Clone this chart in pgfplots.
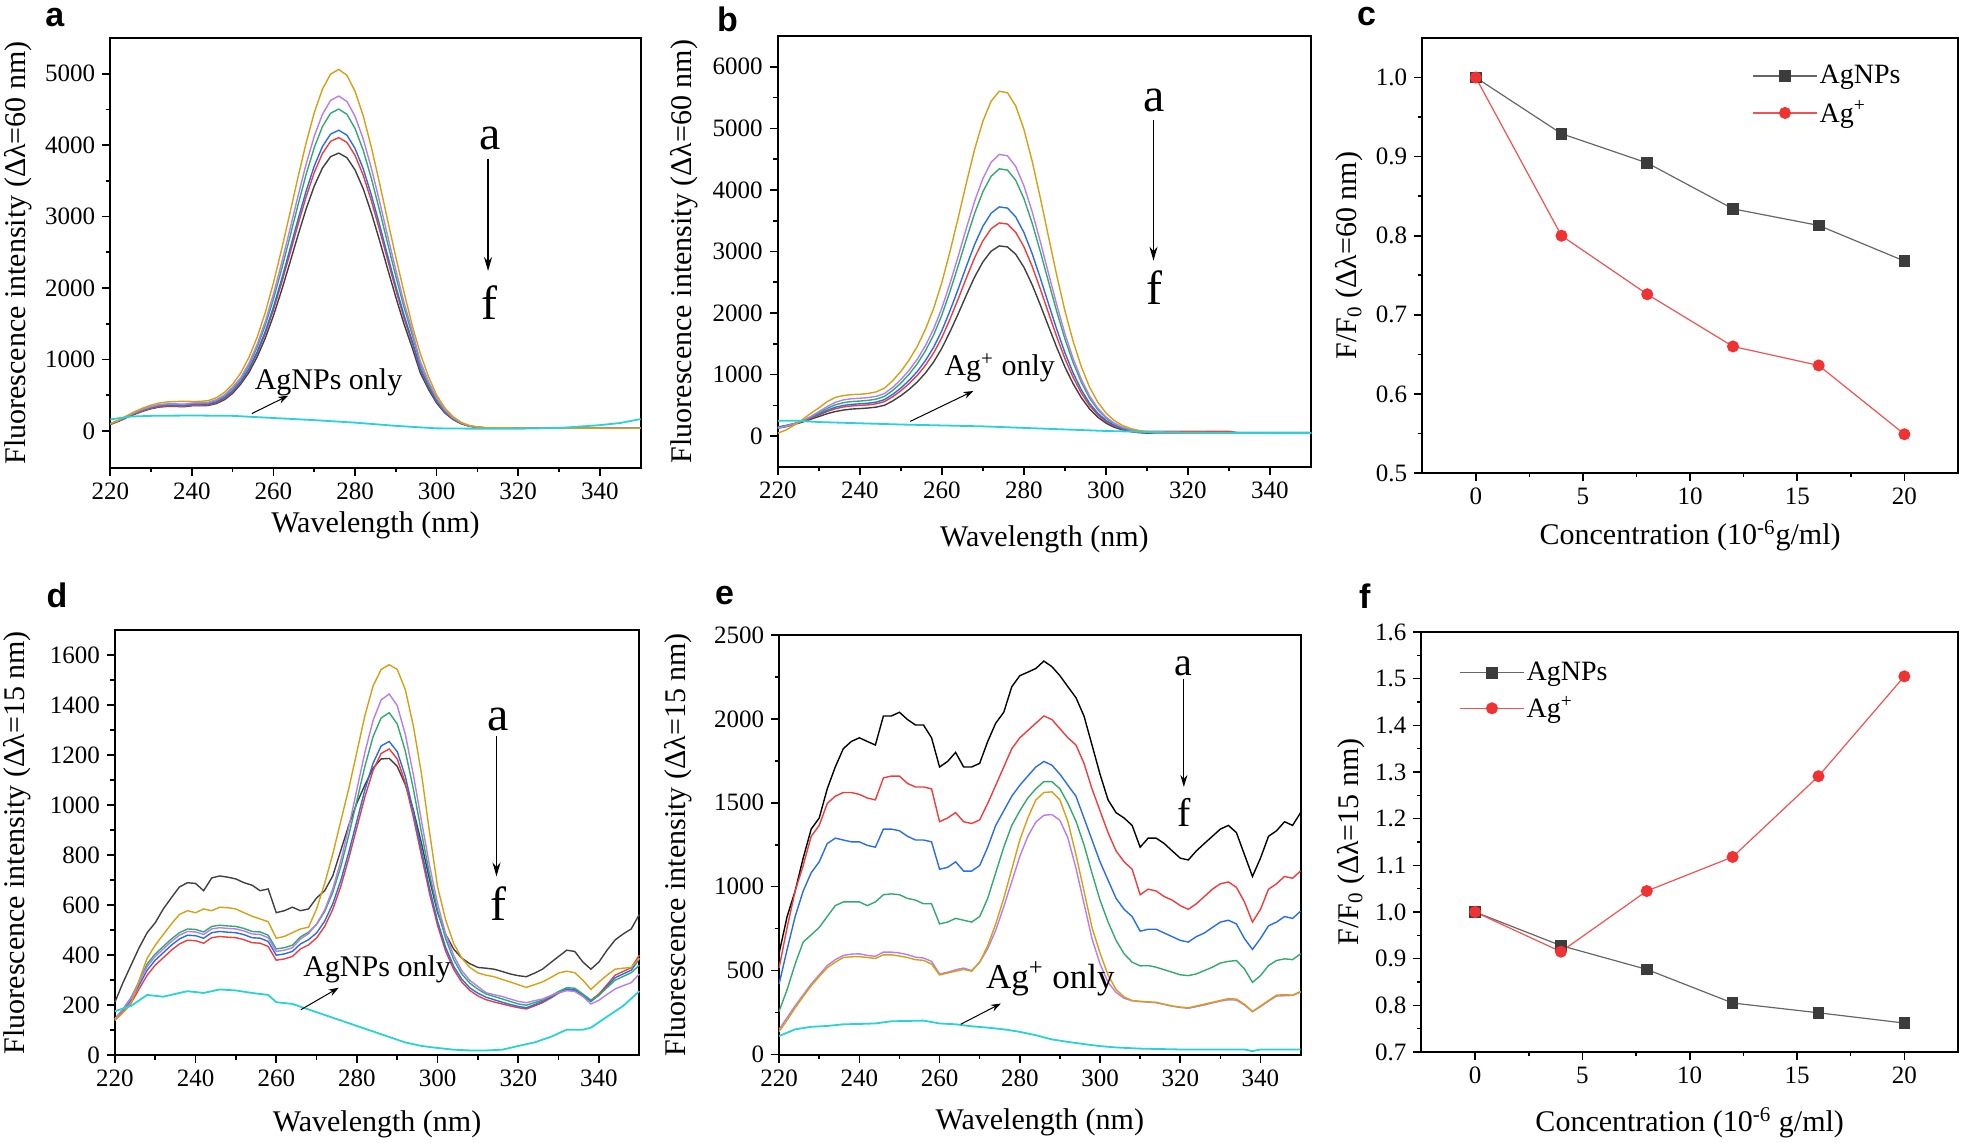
\documentclass[border=0pt]{standalone}
\usepackage{fontspec}
\setmainfont{Liberation Serif}
\newfontfamily\panelfont{Liberation Sans}
\usepackage{pgfplots}
\usepackage{pgfplotstable}
\pgfplotsset{compat=1.18}
\usetikzlibrary{arrows.meta}

\definecolor{cK}{RGB}{64,64,64}
\definecolor{cR}{RGB}{240,60,60}
\definecolor{cB}{RGB}{40,110,230}
\definecolor{cG}{RGB}{50,170,110}
\definecolor{cP}{RGB}{185,125,235}
\definecolor{cO}{RGB}{215,160,20}
\definecolor{cC}{RGB}{40,210,215}
\definecolor{mK}{RGB}{60,60,60}
\definecolor{mR}{RGB}{240,50,50}

\pgfplotsset{
 myaxis/.style={
  scale only axis, anchor=south west,
  axis line style={line width=1pt},
  tick style={line width=0.8pt, black},
  major tick length=4pt, minor tick length=2.2pt,
  tick align=outside, xtick pos=bottom, ytick pos=left,
  tick label style={font=\fontsize{12.5}{14}\selectfont},
  label style={font=\fontsize{15}{18}\selectfont},
  /pgf/number format/assume math mode=true,
  /pgf/number format/set thousands separator={},
  scaled ticks=false,
  every axis plot/.append style={line width=0.7pt},
  clip=false,
 },
 myleg/.style={
  legend cell align=left,
  legend image code/.code={\draw[mark repeat=2,mark phase=2,##1] plot coordinates {(0pt,0pt) (16pt,0pt) (32pt,0pt)};},
 }
}

\pgfplotstableread{
x k r bl g p o
220 90 92 95 98 100 100
222 133 136 140 144 147 150
224 185 189 195 201 205 210
226 233 238 245 252 257 270
228 276 281 290 299 305 320
230 309 315 325 335 341 360
232 333 340 350 361 368 390
234 342 349 360 371 378 405
236 342 349 360 371 378 410
238 337 344 355 366 373 415
240 351 359 370 382 390 411
242 351 360 371 385 393 412
244 355 364 375 391 400 423
246 382 395 406 424 436 464
248 436 452 466 489 503 539
250 526 548 563 593 612 653
252 656 681 692 726 746 812
254 819 853 870 917 946 1029
256 1035 1083 1106 1171 1211 1310
258 1298 1362 1393 1480 1533 1659
260 1613 1695 1735 1847 1916 2073
262 1969 2073 2122 2263 2350 2542
264 2349 2475 2535 2707 2812 3039
266 2736 2885 2956 3159 3283 3547
268 3106 3276 3357 3589 3732 4030
270 3428 3617 3707 3966 4125 4454
272 3679 3883 3980 4259 4430 4784
274 3839 4053 4154 4446 4626 4994
276 3888 4105 4209 4505 4687 5060
278 3825 4039 4140 4432 4612 4978
280 3653 3857 3954 4233 4404 4754
282 3390 3579 3669 3928 4087 4412
284 3051 3221 3302 3534 3677 3970
286 2666 2815 2886 3089 3213 3469
288 2264 2390 2450 2622 2727 2944
290 1869 1973 2022 2163 2250 2430
292 1496 1578 1618 1730 1799 1943
294 1165 1229 1260 1347 1400 1480
296 811 854 875 935 972 1080
298 581 612 626 668 694 760
300 389 409 418 445 462 500
302 250 262 268 285 295 320
304 159 166 169 179 184 200
306 99 103 104 109 112 120
308 65 66 67 69 70 75
310 50 50 50 51 52 55
312 42 42 42 42 43 45
320 38 38 38 38 38 40
335 38 38 38 38 38 38
350 38 38 38 38 38 36
}\tabA

\pgfplotstableread{
x y
220 160
225 200
230 210
240 215
250 210
260 180
270 150
280 115
290 70
300 35
310 30
320 30
330 40
340 80
345 110
350 165
}\cyA

\pgfplotstableread{
x k r bl g p o
220 130 140 150 140 130 50
222 155 165 175 170 160 100
224 190 200 205 205 200 180
226 230 240 245 250 250 270
228 275 290 300 310 320 370
230 320 345 360 380 400 460
232 365 400 420 450 480 560
234 400 445 470 510 550 630
236 425 475 500 545 590 660
238 441 492 517 563 609 676
240 449 500 526 571 617 681
242 458 509 536 582 627 694
244 473 526 554 602 647 720
246 502 562 595 647 692 781
248 572 641 679 743 793 901
250 658 738 782 862 919 1052
252 760 853 906 1006 1071 1237
254 880 987 1050 1176 1249 1458
256 1027 1152 1229 1388 1472 1737
258 1206 1352 1445 1646 1743 2077
260 1430 1603 1715 1968 2081 2499
262 1699 1904 2041 2353 2486 3004
264 1991 2233 2395 2773 2926 3552
266 2297 2575 2764 3208 3384 4121
268 2588 2901 3116 3623 3820 4661
270 2831 3173 3410 3970 4185 5115
272 3005 3369 3621 4221 4448 5441
274 3091 3464 3725 4343 4577 5603
276 3074 3446 3705 4322 4555 5578
278 2956 3313 3563 4158 4381 5366
280 2745 3077 3309 3861 4068 4985
282 2462 2761 2968 3464 3649 4471
284 2133 2392 2571 3000 3161 3873
286 1785 2001 2151 2510 2644 3239
288 1443 1617 1738 2027 2137 2616
290 1125 1261 1355 1580 1665 2037
292 853 956 1028 1197 1262 1542
294 626 702 754 877 925 1129
296 445 498 535 621 655 798
298 310 348 374 433 457 555
300 213 239 257 296 312 378
302 146 164 176 201 213 256
304 102 115 123 139 148 176
306 74 84 89 100 107 125
308 58 65 69 76 82 94
310 50 80 57 62 67 76
312 50 80 60 50 55 62
320 50 80 60 50 55 55
330 50 80 60 50 55 55
332 50 60 60 50 55 55
350 50 60 60 50 55 55
}\tabB

\pgfplotstableread{
x y
220 250
225 250
230 230
240 210
250 190
260 175
270 160
280 135
290 110
300 85
310 70
320 60
330 55
340 50
350 50
}\cyB

\pgfplotstableread{
x k r bl g p o
220 212 140 145 145 145 139
222 290 172 180 185 183 170
224 360 208 220 230 228 205
226 430 265 280 295 292 300
228 490 320 340 365 355 388
230 530 360 380 405 395 440
232 585 390 410 435 425 483
234 630 420 440 465 455 525
236 673 445 465 490 480 563
238 690 460 480 505 495 578
240 687 458 478 503 493 570
242 658 448 468 493 483 585
244 709 470 490 515 505 578
246 717 475 495 520 510 592
248 712 472 492 517 507 590
250 705 470 490 515 505 585
252 690 462 482 507 497 570
254 680 450 470 495 485 556
256 658 448 468 493 483 545
258 665 435 455 480 470 534
260 570 380 400 425 415 468
262 578 385 405 430 420 475
264 592 395 415 440 430 490
266 578 425 445 473 465 505
268 585 441 462 492 486 512
270 629 469 489 523 525 585
272 658 515 536 574 581 687
274 717 583 605 651 665 804
276 819 675 699 754 777 936
278 921 789 813 881 913 1068
280 1009 912 938 1019 1064 1214
282 1082 1035 1063 1157 1213 1360
284 1148 1139 1168 1274 1339 1477
286 1185 1207 1237 1349 1421 1543
288 1187 1225 1255 1370 1445 1562
290 1155 1185 1214 1325 1398 1543
292 1082 1088 1115 1216 1283 1462
294 980 951 975 1064 1121 1316
296 848 798 819 891 937 1126
298 702 647 667 724 759 892
300 570 518 535 580 606 673
302 483 416 431 466 484 541
304 424 343 355 382 398 446
306 388 292 304 325 338 388
308 366 259 269 288 299 351
310 351 237 248 264 275 329
312 348 222 232 245 250 320
314 344 213 222 235 242 314
316 335 205 212 225 235 303
318 325 197 203 215 225 293
320 318 190 195 205 215 282
322 314 185 190 200 210 271
324 328 197 202 210 218 282
326 344 210 215 220 225 293
328 370 228 232 237 238 310
330 395 248 250 255 250 329
332 420 262 265 270 258 336
334 415 260 262 268 255 330
336 373 238 240 245 235 300
338 344 220 215 220 205 263
340 373 245 240 240 220 293
342 420 282 275 270 243 320
344 461 320 310 300 265 344
346 485 335 325 315 278 348
348 505 350 340 330 290 351
350 563 400 385 360 325 388
}\tabD

\pgfplotstableread{
x y
220 176
224 197
228 241
232 234
236 249
238 256
242 249
246 263
250 259
254 249
258 241
260 212
264 205
268 183
272 161
276 139
280 117
284 95
288 73
292 51
296 37
300 29
304 22
308 19
312 19
316 22
320 37
324 51
328 73
332 102
336 102
338 110
342 154
346 197
350 256
}\cyD

\pgfplotstableread{
x k r bl g p o
220 604 517 420 257 150 137
222 822 757 626 387 220 205
224 974 974 822 539 290 278
226 1170 1126 974 670 355 345
228 1343 1300 1083 713 420 409
230 1409 1365 1148 757 475 465
232 1583 1496 1257 822 530 517
234 1713 1539 1289 887 565 550
236 1822 1561 1278 909 590 578
238 1865 1561 1267 909 598 582
240 1887 1550 1267 909 600 583
242 1865 1528 1246 887 590 578
244 1844 1517 1235 909 585 572
246 2017 1648 1343 952 610 594
248 2017 1659 1343 957 610 594
250 2039 1659 1333 952 605 587
252 1996 1615 1300 930 595 578
254 1963 1594 1278 920 580 565
256 1963 1594 1278 898 575 561
258 1887 1583 1267 898 555 539
260 1713 1387 1104 778 480 474
262 1746 1409 1115 789 490 485
264 1800 1441 1148 811 505 496
266 1713 1387 1093 800 515 507
268 1713 1376 1093 789 500 496
270 1735 1398 1126 822 550 550
272 1865 1496 1235 930 630 648
274 1974 1604 1365 1083 740 778
276 2039 1713 1452 1235 880 930
278 2191 1822 1539 1365 1030 1104
280 2257 1887 1604 1452 1180 1278
282 2278 1930 1659 1528 1300 1409
284 2300 1974 1713 1583 1385 1517
286 2344 2017 1746 1626 1425 1561
288 2311 1996 1724 1626 1430 1565
290 2257 1941 1670 1583 1395 1517
292 2191 1887 1604 1496 1290 1387
294 2126 1844 1539 1390 1110 1191
296 2017 1735 1409 1250 900 974
298 1844 1583 1278 1080 690 757
300 1670 1452 1148 920 540 604
302 1517 1322 1039 790 430 474
304 1441 1213 930 680 370 387
306 1409 1148 865 600 335 343
308 1365 1104 822 550 320 322
310 1235 952 735 528 315 317
312 1289 985 746 530 312 314
314 1289 974 746 520 308 311
316 1257 941 724 505 298 300
318 1213 920 702 490 288 289
320 1170 887 680 475 280 283
322 1159 865 670 470 275 278
324 1213 898 702 480 285 289
326 1257 941 724 500 295 300
328 1300 985 757 520 307 311
330 1343 1017 789 545 318 322
332 1365 1028 800 555 326 333
334 1322 996 778 560 324 330
336 1191 909 691 510 295 300
338 1061 789 626 430 255 257
340 1170 865 691 470 285 289
342 1300 985 767 530 318 322
344 1333 1017 789 560 348 354
346 1387 1061 822 570 350 356
348 1365 1050 811 565 352 354
350 1441 1094 854 600 372 376
}\tabE

\pgfplotstableread{
x y
220 110
224 150
228 165
232 170
236 180
240 182
244 185
248 198
252 200
256 202
260 185
264 180
268 168
272 160
276 150
280 135
284 115
288 90
292 75
296 62
300 50
304 42
310 35
320 30
330 30
336 30
338 20
340 30
350 30
}\cyE

\pgfplotstableread{
x np ag
0 1.000 1.000
4 0.929 0.800
8 0.892 0.726
12 0.834 0.660
16 0.813 0.636
20 0.768 0.549
}\tabC

\pgfplotstableread{
x np ag
0 1.000 1.000
4 0.928 0.915
8 0.877 1.045
12 0.805 1.118
16 0.784 1.291
20 0.762 1.505
}\tabF

\begin{document}
\begin{tikzpicture}
% ---------- panel a ----------
\begin{axis}[myaxis, at={(55.15pt,337pt)}, width=265.15pt, height=215pt,
  xmin=220, xmax=350, ymin=-520, ymax=5500,
  xtick={220,240,...,340}, ytick={0,1000,...,5000},
  minor x tick num=1, minor y tick num=1,
  xlabel={Wavelength (nm)}, ylabel={Fluorescence intensity (Δλ=60 nm)},
  xlabel style={at={(axis description cs:0.5,-0.1326)}, anchor=center},
  ylabel style={at={(axis description cs:-0.1742,0.5)}, anchor=center}]
\addplot[cK] table[x=x,y=k]{\tabA};
\addplot[cR] table[x=x,y=r]{\tabA};
\addplot[cB] table[x=x,y=bl]{\tabA};
\addplot[cG] table[x=x,y=g]{\tabA};
\addplot[cP] table[x=x,y=p]{\tabA};
\addplot[cO] table[x=x,y=o]{\tabA};
\addplot[cC, line width=0.9pt] table[x=x,y=y]{\cyA};
\node[font=\fontsize{24}{28}\selectfont] at (axis cs:313,4100) {a};
\node[font=\fontsize{24}{28}\selectfont] at (axis cs:313,1790) {f};
\draw[-{Stealth[length=7pt,width=4pt]}, line width=0.6pt] (axis cs:312.6,3806) -- (axis cs:312.6,2238);
\node[font=\fontsize{15}{18}\selectfont] at (axis cs:273.5,684) {AgNPs only};
\draw[-{Stealth[length=5pt,width=3.5pt]}, line width=0.5pt] (axis cs:254.7,242) -- (axis cs:263.6,492);
\end{axis}
% ---------- panel b ----------
\begin{axis}[myaxis, at={(388.9pt,337.5pt)}, width=266.6pt, height=215.5pt,
  xmin=220, xmax=350, ymin=-500, ymax=6500,
  xtick={220,240,...,340}, ytick={0,1000,...,6000},
  minor x tick num=1, minor y tick num=1,
  xlabel={Wavelength (nm)}, ylabel={Fluorescence intensity (Δλ=60 nm)},
  xlabel style={at={(axis description cs:0.5,-0.167)}, anchor=center},
  ylabel style={at={(axis description cs:-0.1755,0.5)}, anchor=center}]
\addplot[cK] table[x=x,y=k]{\tabB};
\addplot[cR] table[x=x,y=r]{\tabB};
\addplot[cB] table[x=x,y=bl]{\tabB};
\addplot[cG] table[x=x,y=g]{\tabB};
\addplot[cP] table[x=x,y=p]{\tabB};
\addplot[cO] table[x=x,y=o]{\tabB};
\addplot[cC, line width=0.9pt] table[x=x,y=y]{\cyB};
\node[font=\fontsize{24}{28}\selectfont] at (axis cs:311.8,5461) {a};
\node[font=\fontsize{24}{28}\selectfont] at (axis cs:311.8,2416) {f};
\draw[-{Stealth[length=7pt,width=4pt]}, line width=0.6pt] (axis cs:311.6,5142) -- (axis cs:311.6,2851);
\node[font=\fontsize{15}{18}\selectfont] at (axis cs:274.1,1108) {Ag\textsuperscript{+} only};
\draw[-{Stealth[length=5pt,width=3.5pt]}, line width=0.5pt] (axis cs:252.3,241) -- (axis cs:267.7,735);
\end{axis}
% ---------- panel c ----------
\begin{axis}[myaxis, myleg, at={(711.1pt,334.5pt)}, width=267.9pt, height=217.5pt,
  xmin=-2.5, xmax=22.5, ymin=0.5, ymax=1.05,
  xtick={0,5,10,15,20}, ytick={0.5,0.6,0.7,0.8,0.9,1.0},
  minor x tick num=1, minor y tick num=1,
  y tick label style={/pgf/number format/.cd, fixed, fixed zerofill, precision=1},
  xlabel={Concentration (10\textsuperscript{-6}g/ml)}, ylabel={F/F\textsubscript{0} (Δλ=60 nm)},
  xlabel style={at={(axis description cs:0.5,-0.1448)}, anchor=center},
  ylabel style={at={(axis description cs:-0.1355,0.5)}, anchor=center},
  legend style={at={(rel axis cs:0.6155,0.943)}, anchor=north west, draw=none, fill=none,
    inner sep=0pt, row sep=5pt, font=\fontsize{14}{16}\selectfont, nodes={inner sep=1pt}}]
\addplot[color=gray!80!black, line width=0.6pt, mark=square*, mark size=2.6pt, mark options={fill=mK, draw=mK}] table[x=x,y=np]{\tabC};
\addlegendentry{AgNPs}
\addplot[color=mR!85!white, line width=0.6pt, mark=*, mark size=2.7pt, mark options={fill=mR, draw=mR}] table[x=x,y=ag]{\tabC};
\addlegendentry{Ag\textsuperscript{+}}
\end{axis}
% ---------- panel d ----------
\begin{axis}[myaxis, at={(57.45pt,43.4pt)}, width=262.2pt, height=212.5pt,
  xmin=220, xmax=350, ymin=0, ymax=1700,
  xtick={220,240,...,340}, ytick={0,200,...,1600},
  minor x tick num=1, minor y tick num=1,
  xlabel={Wavelength (nm)}, ylabel={Fluorescence intensity (Δλ=15 nm)},
  xlabel style={at={(axis description cs:0.5,-0.163)}, anchor=center},
  ylabel style={at={(axis description cs:-0.187,0.5)}, anchor=center}]
\addplot[cK] table[x=x,y=k]{\tabD};
\addplot[cR] table[x=x,y=r]{\tabD};
\addplot[cB] table[x=x,y=bl]{\tabD};
\addplot[cG] table[x=x,y=g]{\tabD};
\addplot[cP] table[x=x,y=p]{\tabD};
\addplot[cO] table[x=x,y=o]{\tabD};
\addplot[cC, line width=0.9pt] table[x=x,y=y]{\cyD};
\node[font=\fontsize{24}{28}\selectfont] at (axis cs:315.1,1342) {a};
\node[font=\fontsize{24}{28}\selectfont] at (axis cs:315.1,606) {f};
\draw[-{Stealth[length=7pt,width=4pt]}, line width=0.6pt] (axis cs:314.6,1277) -- (axis cs:314.6,715);
\node[font=\fontsize{15}{18}\selectfont] at (axis cs:285,343) {AgNPs only};
\draw[-{Stealth[length=5pt,width=3.5pt]}, line width=0.5pt] (axis cs:266.1,182) -- (axis cs:275.5,270);
\end{axis}
% ---------- panel e ----------
\begin{axis}[myaxis, at={(389.55pt,43.75pt)}, width=260.75pt, height=209.8pt,
  xmin=220, xmax=350, ymin=0, ymax=2500,
  xtick={220,240,...,340}, ytick={0,500,...,2500},
  minor x tick num=1, minor y tick num=1,
  xlabel={Wavelength (nm)}, ylabel={Fluorescence intensity (Δλ=15 nm)},
  xlabel style={at={(axis description cs:0.5,-0.162)}, anchor=center},
  ylabel style={at={(axis description cs:-0.1944,0.5)}, anchor=center}]
\addplot[black] table[x=x,y=k]{\tabE};
\addplot[cR] table[x=x,y=r]{\tabE};
\addplot[cB] table[x=x,y=bl]{\tabE};
\addplot[cG] table[x=x,y=g]{\tabE};
\addplot[cP] table[x=x,y=p]{\tabE};
\addplot[cO] table[x=x,y=o]{\tabE};
\addplot[cC, line width=0.9pt] table[x=x,y=y]{\cyE};
\node[font=\fontsize{20}{24}\selectfont] at (axis cs:320.9,2311) {a};
\node[font=\fontsize{20}{24}\selectfont] at (axis cs:320.9,1441) {f};
\draw[-{Stealth[length=6pt,width=3.5pt]}, line width=0.5pt] (axis cs:320.9,2235) -- (axis cs:320.9,1594);
\node[font=\fontsize{17.5}{20}\selectfont] at (axis cs:287.6,452) {Ag\textsuperscript{+} only};
\draw[-{Stealth[length=5pt,width=3.5pt]}, line width=0.5pt] (axis cs:265.3,180.5) -- (axis cs:275.3,304);
\end{axis}
% ---------- panel f ----------
\begin{axis}[myaxis, myleg, at={(710.7pt,45pt)}, width=268.3pt, height=210pt,
  xmin=-2.5, xmax=22.5, ymin=0.7, ymax=1.6,
  xtick={0,5,10,15,20}, ytick={0.7,0.8,0.9,1.0,1.1,1.2,1.3,1.4,1.5,1.6},
  minor x tick num=1, minor y tick num=1,
  y tick label style={/pgf/number format/.cd, fixed, fixed zerofill, precision=1},
  xlabel={Concentration (10\textsuperscript{-6} g/ml)}, ylabel={F/F\textsubscript{0} (Δλ=15 nm)},
  xlabel style={at={(axis description cs:0.5,-0.169)}, anchor=center},
  ylabel style={at={(axis description cs:-0.1318,0.5)}, anchor=center},
  legend style={at={(rel axis cs:0.070,0.934)}, anchor=north west, draw=none, fill=none,
    inner sep=0pt, row sep=4.2pt, font=\fontsize{14}{16}\selectfont, nodes={inner sep=1pt}}]
\addplot[color=gray!80!black, line width=0.6pt, mark=square*, mark size=2.6pt, mark options={fill=mK, draw=mK}] table[x=x,y=np]{\tabF};
\addlegendentry{AgNPs}
\addplot[color=mR!85!white, line width=0.6pt, mark=*, mark size=2.7pt, mark options={fill=mR, draw=mR}] table[x=x,y=ag]{\tabF};
\addlegendentry{Ag\textsuperscript{+}}
\end{axis}
% ---------- panel letters ----------
\begin{scope}[every node/.style={anchor=base west, inner sep=0pt, font=\panelfont\bfseries\fontsize{17}{19}\selectfont}]
\node at (22.5pt,557.5pt) {a};
\node at (358.4pt,555pt) {b};
\node at (678.4pt,558pt) {c};
\node at (23.15pt,267pt) {d};
\node at (357.35pt,268.65pt) {e};
\node at (679.4pt,266.85pt) {f};
\end{scope}
\pgfresetboundingbox
\useasboundingbox (0,0) rectangle (980.5pt,571pt);
\end{tikzpicture}
\end{document}
